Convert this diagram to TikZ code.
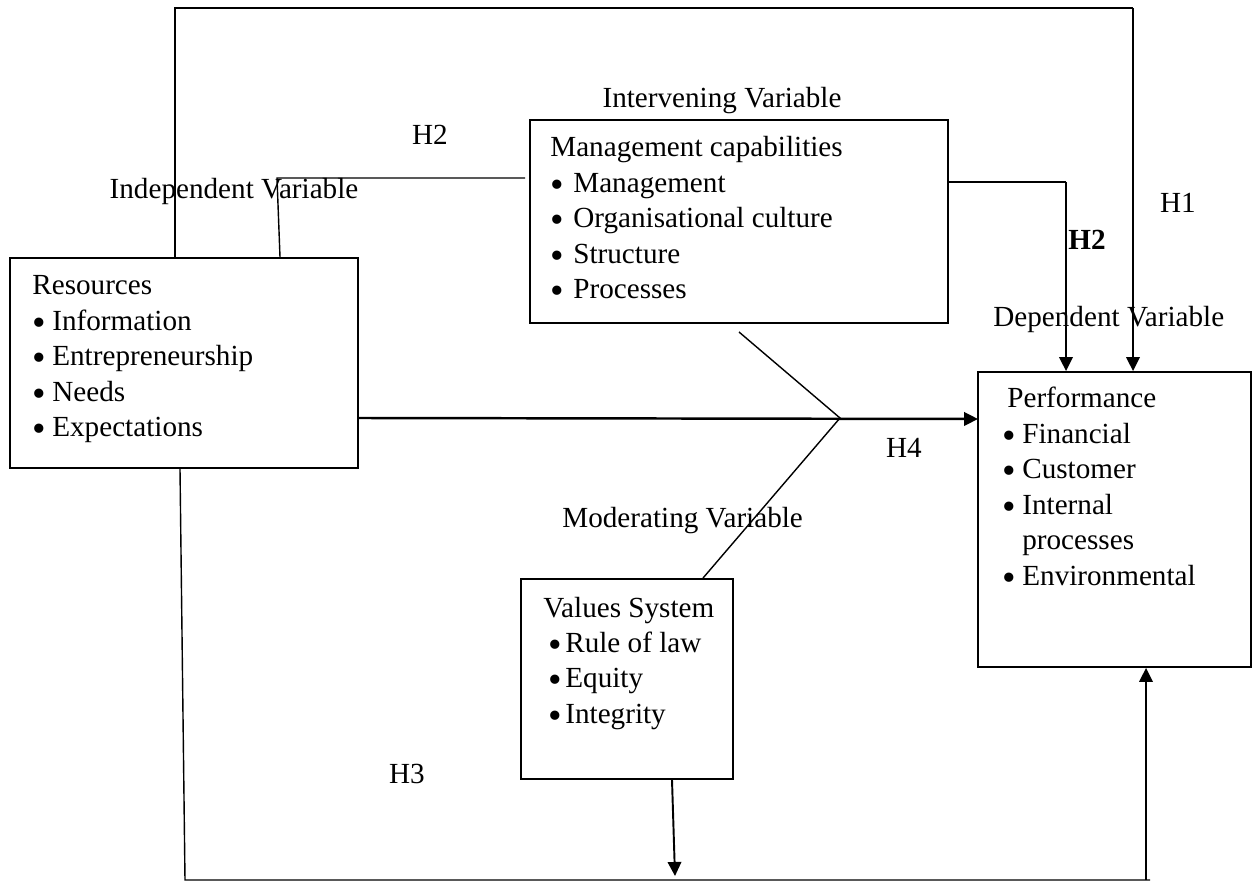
\documentclass[tikz,border=0pt]{standalone}
\usepackage{fontspec}
\setmainfont{Liberation Serif}
\usetikzlibrary{arrows.meta}
\newcommand{\bul}[1]{\makebox[#1][l]{\raisebox{-0.16em}[0pt][0pt]{\fontsize{22}{20}\selectfont\textbullet}}}
\begin{document}
\begin{tikzpicture}[x=0.02cm,y=-0.02cm,
  every node/.style={font=\fontsize{16.6}{20.2}\selectfont, inner sep=0pt},
  box/.style={draw, line width=1.1pt, rectangle},
  lbl/.style={anchor=base},
  txt/.style={anchor=base west},
  arr/.style={line width=1.1pt, -{Triangle[length=0.28cm,width=0.27cm]}},
  thk/.style={line width=1.1pt},
  thn/.style={line width=0.8pt}]
\useasboundingbox (0,0) rectangle (1254,881);

% boxes
\node[box, minimum width=6.96cm, minimum height=4.2cm] (res) at (184,363) {};
\node[box, minimum width=8.36cm, minimum height=4.06cm] (int) at (739,221.5) {};
\node[box, minimum width=4.24cm, minimum height=4.0cm] (val) at (627,679) {};
\node[box, minimum width=5.46cm, minimum height=5.9cm] (perf) at (1114.5,519.5) {};

% box texts
\node[txt] (restxt) at (32,295) {\begin{tabular}[t]{@{}l@{}}Resources\\
\bul{0.4cm}Information\\ \bul{0.4cm}Entrepreneurship\\ \bul{0.4cm}Needs\\ \bul{0.4cm}Expectations\end{tabular}};
\node[txt] (inttxt) at (550,157) {\begin{tabular}[t]{@{}l@{}}Management capabilities\\
\bul{0.46cm}Management\\ \bul{0.46cm}Organisational culture\\ \bul{0.46cm}Structure\\ \bul{0.46cm}Processes\end{tabular}};
\node[txt] (valtxt) at (543,617) {\begin{tabular}[t]{@{}l@{}}Values System\\
\hspace{0.1cm}\bul{0.34cm}Rule of law\\ \hspace{0.1cm}\bul{0.34cm}Equity\\ \hspace{0.1cm}\bul{0.34cm}Integrity\end{tabular}};
\node[txt] (perftxt) at (1002,408) {\begin{tabular}[t]{@{}l@{}}\hspace{0.1cm}Performance\\
\bul{0.4cm}Financial\\ \bul{0.4cm}Customer\\ \bul{0.4cm}Internal\\ \hspace{0.4cm}processes\\ \bul{0.4cm}Environmental\end{tabular}};

% labels
\node[lbl] (lint) at (722,108) {Intervening Variable};
\node[lbl] (lh2a) at (430,145) {H2};
\node[lbl] (lind) at (234,199) {Independent Variable};
\node[lbl] (lh1) at (1178,213) {H1};
\node[lbl] (lh2b) at (1087,250) {\textbf{H2}};
\node[txt] (ldep) at (993,327) {Dependent Variable};
\node[lbl] (lh4) at (904,458) {H4};
\node[txt] (lmod) at (562,527) {Moderating Variable};
\node[lbl] (lh3) at (407,783) {H3};

% coordinates
\coordinate (h1a) at (175,8);
\coordinate (h1b) at (1133,8);
\coordinate (h2a) at (280,0);
\coordinate (h2b) at (277,178);
\coordinate (h2c) at (525,178);
\coordinate (h2d) at (1066,182);
\coordinate (h4a) at (358,418);
\coordinate (h4b) at (978,419);
\coordinate (j) at (840,418);
\coordinate (dg) at (739,332);
\coordinate (vd) at (703,0);
\coordinate (h3a) at (180,0);
\coordinate (h3b) at (185,880);
\coordinate (h3c) at (1150,880);
\coordinate (up) at (1146,880);
\coordinate (vb1) at (672,0);
\coordinate (vb2) at (675,876);

% connectors
\draw[thk] (res.north -| h1a) -- (h1a) -- (h1b);
\draw[arr] (h1b) -- (perf.north -| h1b);
\draw[thn] (res.north -| h2a) -- (h2b) -- (h2c);
\draw[thk] (int.east |- h2d) -- (h2d);
\draw[arr] (h2d) -- (perf.north -| h2d);
\draw[arr, line width=1.4pt] (h4a) -- (h4b);
\draw[thn] (dg) -- (j) -- (val.north -| vd);
\draw[thn] (res.south -| h3a) -- (h3b) -- (h3c);
\draw[arr] (up) -- (perf.south -| up);
\draw[arr] (val.south -| vb1) -- (vb2);
\end{tikzpicture}
\end{document}
